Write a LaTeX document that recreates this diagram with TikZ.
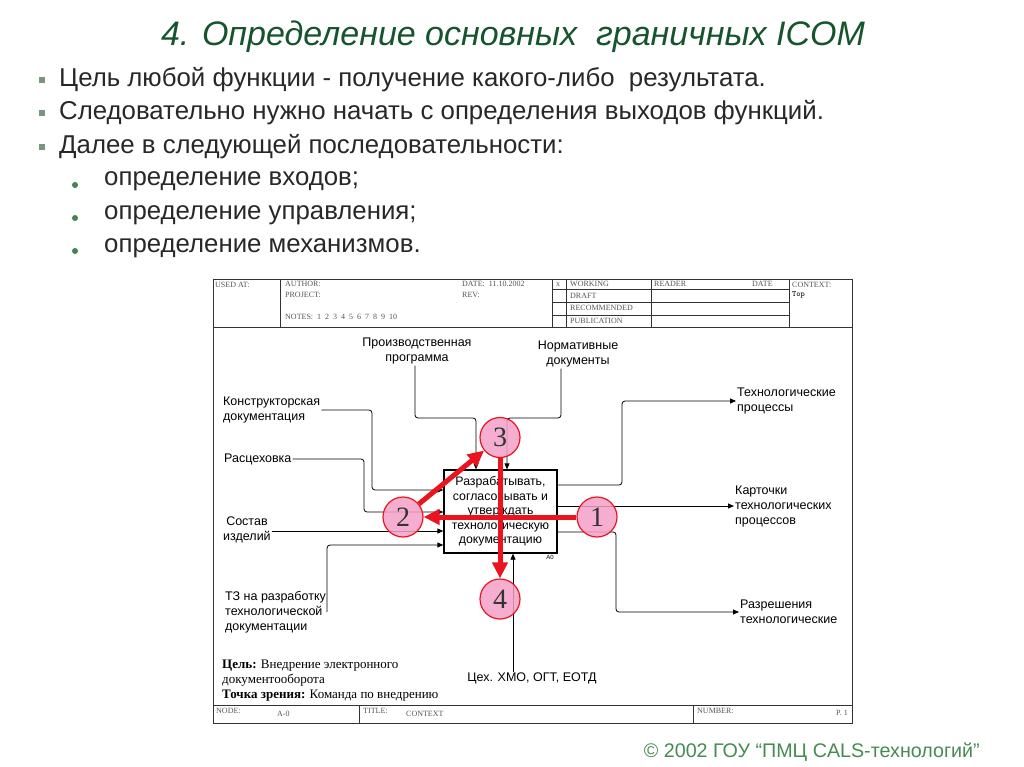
\documentclass[tikz,border=0pt]{standalone}
\usepackage{fontspec}
\setmainfont{Liberation Sans}
\newfontfamily\seriff{Liberation Serif}
\usetikzlibrary{arrows.meta,calc}
\pgfdeclarelayer{redl}
\pgfdeclarelayer{front}
\pgfsetlayers{main,redl,front}
\definecolor{ttl}{RGB}{22,84,45}
\definecolor{txt}{RGB}{40,40,40}
\definecolor{sqb}{RGB}{120,150,125}
\definecolor{dotb}{RGB}{70,130,80}
\definecolor{copyc}{RGB}{70,140,80}
\definecolor{pinkf}{RGB}{245,160,200}
\definecolor{redc}{RGB}{235,20,30}
\definecolor{hdr}{RGB}{85,85,85}
\tikzset{
  bul/.style={anchor=west, text=txt, font=\fontsize{25.8}{30}\selectfont, inner sep=0},
  sqbul/.style={fill=sqb, minimum size=6, inner sep=0},
  dotbul/.style={circle, fill=dotb, minimum size=6, inner sep=0},
  lbl/.style={font=\fontsize{12.5}{15}\selectfont, inner sep=1, align=left},
  hd/.style={anchor=west, text=hdr, font=\seriff\fontsize{8}{8}\selectfont, inner sep=0},
  purp/.style={anchor=base west, inner sep=0, font=\seriff\fontsize{13}{15}\selectfont},
  conn/.style={draw=black, line width=0.8, rounded corners=3, -{Triangle[length=6,width=5]}},
  frm/.style={draw=black!80, line width=1},
  num/.style={circle, draw=redc, line width=1.2, fill=pinkf, fill opacity=0.85, text opacity=1,
    minimum size=40, inner sep=0, text=black!80, font=\seriff\fontsize{28}{28}\selectfont},
  redarr/.style={draw=redc, line width=5, -{Triangle[length=16,width=15]}}
}
\begin{document}
\begin{tikzpicture}[x=1pt,y=-1pt]
\useasboundingbox (0,0) rectangle (1024,767);
\fill[white] (0,0) rectangle (1024,767);

% title
\node[text=ttl, font=\fontsize{34}{40}\selectfont\itshape] (title) at (513,37) {4. Определение основных\ \ граничных ICOM};

% bullets
\node[sqbul] (s1) at (42,80) {};
\node[sqbul] (s2) at (42,113) {};
\node[sqbul] (s3) at (42,147) {};
\node[bul] (b1) at (59,80) {Цель любой функции - получение какого-либо\ \ результата.};
\node[bul] (b2) at (59,113) {Следовательно нужно начать с определения выходов функций.};
\node[bul] (b3) at (59,147) {Далее в следующей последовательности:};
\node[dotbul] (d1) at (75,185) {};
\node[dotbul] (d2) at (75,218) {};
\node[dotbul] (d3) at (75,251) {};
\node[bul] (b4) at (104,181) {определение входов;};
\node[bul] (b5) at (104,215) {определение управления;};
\node[bul] (b6) at (104,248) {определение механизмов.};

% frame
\draw[frm] (213,279) rectangle (852,723);
\draw[frm] (213,327) -- (852,327);
\draw[frm] (280,279) -- (280,327);
\draw[frm] (552,279) -- (552,327);
\draw[frm] (566,279) -- (566,327);
\draw[frm] (651,279) -- (651,327);
\draw[frm] (789,279) -- (789,327);
\draw[frm] (552,289) -- (789,289);
\draw[frm] (552,302) -- (789,302);
\draw[frm] (552,315) -- (789,315);
\draw[frm] (213,705) -- (852,705);
\draw[frm] (359,705) -- (359,723);
\draw[frm] (693,705) -- (693,723);

% header texts
\node[hd] (h1) at (215,285) {USED AT:};
\node[hd] (h2) at (285,284) {AUTHOR:};
\node[hd] (h3) at (285,295) {PROJECT:};
\node[hd] (h4) at (285,317) {NOTES:\ \ 1\ \ 2\ \ 3\ \ 4\ \ 5\ \ 6\ \ 7\ \ 8\ \ 9\ \ 10};
\node[hd] (h5) at (462,284) {DATE:\ \ 11.10.2002};
\node[hd] (h6) at (462,295) {REV:};
\node[hd] (h7) at (556,285) {x};
\node[hd] (h8) at (570,284) {WORKING};
\node[hd] (h9) at (570,296) {DRAFT};
\node[hd] (h10) at (570,308) {RECOMMENDED};
\node[hd] (h11) at (570,321) {PUBLICATION};
\node[hd] (h12) at (654,284) {READER};
\node[hd] (h13) at (752,284) {DATE};
\node[hd] (h14) at (792,285) {CONTEXT:};
\node[hd, text=black, font=\ttfamily\fontsize{8}{8}\selectfont] (h15) at (792,295) {Top};
\node[hd] (f1) at (216,711) {NODE:};
\node[hd] (f2) at (277,714) {A-0};
\node[hd] (f3) at (363,711) {TITLE:};
\node[hd] (f4) at (406,714) {CONTEXT};
\node[hd] (f5) at (697,711) {NUMBER:};
\node[hd] (f6) at (836,713) {P. 1};

% purpose
\node[purp] (p1) at (222,668) {\textbf{Цель:} Внедрение электронного};
\node[purp] (p2) at (222,683) {документооборота};
\node[purp] (p3) at (222,698) {\textbf{Точка зрения:} Команда по внедрению};

% main box
\node[draw, line width=1.3, minimum width=113, minimum height=83, inner sep=0, align=center,
  font=\fontsize{12.3}{14.5}\selectfont] (A0) at (500.5,511.5)
  {Разрабатывать,\\согласовывать и\\утверждать\\технологическую\\документацию};
\node[font=\fontsize{6}{6}\selectfont, inner sep=0] (a0l) at (550,557) {A0};

% labels
\node[lbl, align=center, anchor=north] (prog) at (417,337) {Производственная\\программа};
\node[lbl, align=center, anchor=north] (norm) at (578,340) {Нормативные\\документы};
\node[lbl, anchor=west] (kd) at (222,410) {Конструкторская\\документация};
\node[lbl, anchor=west] (ras) at (223,459) {Расцеховка};
\node[lbl, align=center, anchor=west] (sos) at (222,530) {Состав\\изделий};
\node[lbl, anchor=west] (tz) at (224,612) {ТЗ на разработку\\технологической\\документации};
\node[lbl, anchor=west] (tp) at (736,401) {Технологические\\процессы};
\node[lbl, anchor=west] (kt) at (734,506) {Карточки\\технологических\\процессов};
\node[lbl, anchor=west] (rz) at (739,612) {Разрешения\\технологические};
\node[lbl, anchor=north] (mech) at (532,672) {Цех. ХМО, ОГТ, ЕОТД};

% connectors
\coordinate (k1) at (476,418);
\draw[conn] (prog.south -| 415,0) -- (415,418) -- (k1) -- (k1 |- A0.north);
\coordinate (k2) at (507,418);
\draw[conn] ($(norm.south)+(-17,0)$) |- (k2) -- (k2 |- A0.north);
\coordinate (k3) at (372,490);
\draw[conn] (kd.east) -| (k3) -- (k3 -| A0.west);
\coordinate (k4) at (364,512);
\draw[conn] (ras.east) -| (k4) -- (k4 -| A0.west);
\draw[conn] (sos.east |- 0,531) -- (A0.west |- 0,531);
\coordinate (k5) at (335,545);
\draw[conn] (tz.east) |- (k5) -- (k5 -| A0.west);
\coordinate (o1) at (622,485);
\draw[conn] (A0.east |- o1) -- (o1) |- (tp.west);
\draw[conn] (A0.east |- kt.west) -- (kt.west);
\coordinate (o3) at (616,532);
\draw[conn] (A0.east |- o3) -- (o3) |- (rz.west);
\coordinate (m1) at (513,668);
\draw[conn] (mech.north -| m1) -- (m1 |- A0.south);

% numbered circles
\begin{pgfonlayer}{front}
\node[num] (c1) at (597,517) {1};
\node[num] (c2) at (403,517) {2};
\node[num] (c3) at (500,437.5) {3};
\node[num] (c4) at (500,599) {4};
\end{pgfonlayer}
\begin{pgfonlayer}{redl}
\draw[redarr] (c1) -- (c2);
\draw[redarr] (c2) -- (c3);
\draw[redarr] (c3) -- (c4);
\end{pgfonlayer}

% copyright
\node[anchor=east, text=copyc, font=\fontsize{19.7}{22}\selectfont, inner sep=0] (copy) at (980,752) {© 2002 ГОУ “ПМЦ CALS-технологий”};
\end{tikzpicture}
\end{document}
